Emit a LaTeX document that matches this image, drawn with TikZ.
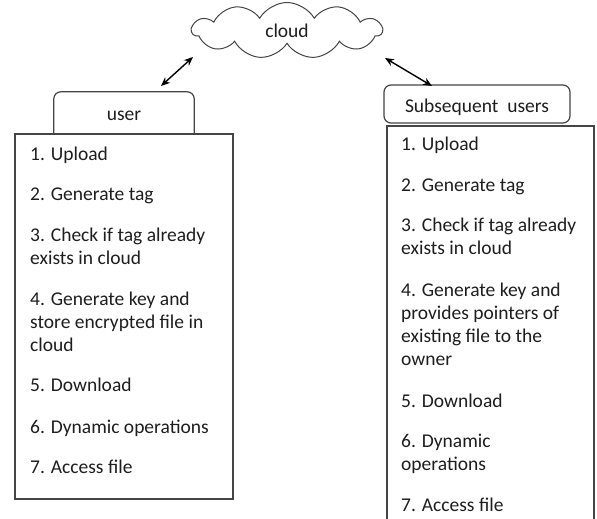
\documentclass[tikz,border=0pt]{standalone}
\usepackage{fontspec}
\setmainfont{Carlito}
\usetikzlibrary{shapes.symbols,arrows.meta}
\definecolor{edge}{HTML}{454545}
\definecolor{txt}{HTML}{1E1E1E}
\begin{document}
\begin{tikzpicture}[x=1pt,y=1pt,
  every node/.style={font=\fontsize{19.5}{23}\selectfont, text=txt},
  box/.style={draw=edge, line width=1.2pt},
  item/.style={anchor=base west, align=left, inner sep=0pt},
  arr/.style={{Stealth[length=9pt,width=7.5pt]}-{Stealth[length=9pt,width=7.5pt]}, line width=1.4pt, draw=black}
]
\useasboundingbox (0,0) rectangle (597,519);
\fill[white] (0,0) rectangle (597,519);
% cloud
\node[cloud, cloud puffs=11, cloud puff arc=120, aspect=3.5, draw=edge, line width=1pt,
      minimum width=190pt, minimum height=56pt, inner sep=0pt] (cloud) at (287,488.5) {cloud};
% user tab and box
\node[minimum width=140pt, minimum height=42pt, inner sep=0pt, text height=21pt, text depth=5pt] (usertab) at (124,406) {user};
\draw[box, rounded corners=7pt] (usertab.south west) -- (usertab.north west) -- (usertab.north east) -- (usertab.south east);
\node[box, minimum width=218pt, minimum height=365pt, inner sep=0pt] (userbox) at (124,202.5) {};
% subsequent users tab and box
\node[box, rounded corners=7pt, minimum width=186pt, minimum height=38pt, inner sep=0pt,
      text height=23pt, text depth=5pt] (subtab) at (477,415) {Subsequent\ \ users};
\node[box, minimum width=207pt, minimum height=405pt, inner sep=0pt] (subbox) at (490.5,190.5) {};
% left items (base = baseline of last line)
\node[item] (l1) at (30,358) {1. Upload};
\node[item] (l2) at (30,318) {2. Generate tag};
\node[item] (l3) at (30,254) {3. Check if tag already\\exists in cloud};
\node[item] (l4) at (30,167) {4. Generate key and\\store encrypted file in\\cloud};
\node[item] (l5) at (30,127) {5. Download};
\node[item] (l6) at (30,85) {6. Dynamic operations};
\node[item] (l7) at (30,45) {7. Access file};
% right items
\node[item] (r1) at (401,368) {1. Upload};
\node[item] (r2) at (401,327) {2. Generate tag};
\node[item] (r3) at (401,264) {3. Check if tag already\\exists in cloud};
\node[item] (r4) at (401,153) {4. Generate key and\\provides pointers of\\existing file to the\\owner};
\node[item] (r5) at (401,111) {5. Download};
\node[item] (r6) at (401,48) {6. Dynamic\\operations};
\node[item] (r7) at (401,7) {7. Access file};
% arrows
\coordinate (ca) at (193,462);
\coordinate (ua) at (161,433);
\coordinate (cb) at (385,461);
\coordinate (sa) at (432,433);
\draw[arr] (ca) -- (ua);
\draw[arr] (cb) -- (sa);
\end{tikzpicture}
\end{document}
